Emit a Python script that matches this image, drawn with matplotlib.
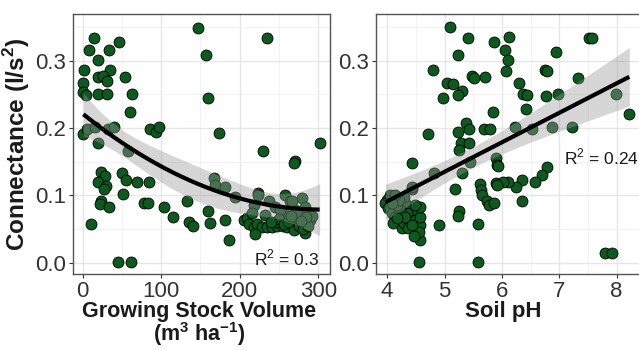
import numpy as np
import matplotlib
matplotlib.use("Agg")
import matplotlib.pyplot as plt
from matplotlib.ticker import MultipleLocator

plt.rcParams['font.family'] = ['Liberation Sans', 'DejaVu Sans']
plt.rcParams['mathtext.fontset'] = 'custom'
plt.rcParams['mathtext.rm'] = 'Liberation Sans'
plt.rcParams['mathtext.bf'] = 'Liberation Sans:bold'

# growing stock volume (m3/ha) vs connectance
gsv = [14.4, 8.4, 34, 46.7, 20, 1.7, 34.8, 20, 26, 30.6, 0.8, 54, 0.8, 4.2, 20, 31.4, 63,
       60.3, 0.8, 5.9, 15.7, 32.7, 40, 20, 58.2, 85.8, 93.5, 97.7, 23, 28.4, 20, 29.7, 27.2,
       49.7, 55.2, 69.6, 84.2, 51.8, 23, 22, 34, 78.2, 83.3, 103.7, 115.6, 132.6, 136, 140.3,
       10.2, 45.4, 61.2, 146.5, 234.7, 157.3, 160.2, 173.9, 229.6, 301.8, 270, 268.6, 166.6,
       168, 181.5, 194.3, 223.2, 217.6, 236.7, 258, 264.4, 279.3, 254.6, 270.8, 283.5, 290,
       245.3, 270.8, 160.2, 162.4, 181.5, 204.8, 209.2, 215.6, 211.2, 217.6, 222, 228.3,
       234.7, 241, 247.4, 254.6, 260.2, 268.6, 283.5, 219, 185.7, 232.5, 273, 251.7, 266.6, 223,
       245, 250, 256, 262, 275, 280, 287, 292, 285, 278, 265, 240]
conn_gsv = [0.334, 0.315, 0.315, 0.328, 0.301, 0.286, 0.286, 0.276, 0.277, 0.269, 0.267, 0.276,
            0.254, 0.249, 0.250, 0.250, 0.250, 0.223, 0.191, 0.199, 0.202, 0.199, 0.201, 0.177,
            0.166, 0.199, 0.194, 0.201, 0.134, 0.129, 0.119, 0.114, 0.110, 0.133, 0.123, 0.119,
            0.119, 0.102, 0.092, 0.087, 0.083, 0.089, 0.089, 0.082, 0.068, 0.091, 0.061, 0.055,
            0.057, 0.001, 0.001, 0.348, 0.334, 0.308, 0.244, 0.192, 0.166, 0.177, 0.151, 0.148,
            0.125, 0.115, 0.113, 0.097, 0.103, 0.086, 0.092, 0.100, 0.091, 0.096, 0.076, 0.078,
            0.083, 0.063, 0.083, 0.063, 0.077, 0.059, 0.064, 0.064, 0.067, 0.073, 0.058, 0.053,
            0.058, 0.053, 0.053, 0.053, 0.054, 0.054, 0.053, 0.049, 0.044, 0.043, 0.034, 0.071,
            0.074, 0.078, 0.091, 0.100,
            0.060, 0.065, 0.058, 0.060, 0.055, 0.050, 0.055, 0.070, 0.068, 0.062, 0.070, 0.060]

# soil pH vs connectance
ph = [5.10, 5.41, 5.86, 6.05, 5.23, 4.79, 5.04, 5.14, 5.30, 5.23, 4.98, 5.48, 5.51, 5.70, 6.07,
      5.84, 5.37, 5.43, 5.23, 5.68, 5.80, 5.29, 5.42, 5.26, 4.71, 4.43, 4.81, 5.30, 5.45, 5.90,
      5.91, 5.62, 5.64, 5.65, 5.74, 5.77, 5.86, 5.90, 5.19, 5.26, 5.23, 5.59, 4.90, 4.55, 5.59,
      4.58, 4.44,
      4.05, 4.00, 3.97, 4.02, 4.08, 4.14, 4.20, 4.11, 4.26, 4.29, 4.37, 4.43, 4.34, 4.49, 4.58,
      4.55, 4.37, 4.58, 4.46, 4.43, 4.31, 4.23, 4.17, 4.29, 4.20, 4.14, 4.58, 4.49, 4.08, 4.31,
      4.43, 4.17,
      6.12, 6.10, 6.94, 7.51, 7.57, 6.75, 6.78, 7.32, 6.30, 6.37, 6.43, 6.76, 6.98, 6.42, 7.99,
      8.22, 6.22, 6.52, 6.88, 7.23, 5.94, 6.78, 6.69, 6.57, 6.35, 6.24, 6.11, 6.02, 5.91, 6.35,
      7.80, 7.92]
conn_ph = [0.349, 0.334, 0.328, 0.315, 0.308, 0.286, 0.267, 0.265, 0.255, 0.249, 0.244, 0.277,
           0.274, 0.276, 0.285, 0.223, 0.208, 0.199, 0.194, 0.199, 0.199, 0.178, 0.177, 0.167,
           0.191, 0.148, 0.133, 0.133, 0.150, 0.155, 0.145, 0.117, 0.108, 0.100, 0.091, 0.086,
           0.088, 0.118, 0.109, 0.076, 0.069, 0.057, 0.056, 0.001, 0.001, 0.034, 0.110,
           0.100, 0.093, 0.088, 0.081, 0.074, 0.068, 0.061, 0.059, 0.051, 0.059, 0.063, 0.073,
           0.073, 0.063, 0.056, 0.046, 0.051, 0.068, 0.039, 0.113, 0.088, 0.078, 0.086, 0.098,
           0.093, 0.100, 0.083, 0.086, 0.088, 0.068, 0.056, 0.066,
           0.335, 0.301, 0.313, 0.334, 0.334, 0.286, 0.285, 0.274, 0.267, 0.250, 0.249, 0.247,
           0.250, 0.228, 0.250, 0.221, 0.201, 0.199, 0.201, 0.201, 0.143, 0.142, 0.130, 0.120,
           0.123, 0.113, 0.120, 0.119, 0.115, 0.091, 0.015, 0.015]

r2_labels = ["0.3", "0.24"]

POINT = '#0d5a1e'
T975 = 1.98


def lm_fit(x, y, deg):
    # ordinary least squares polynomial + 95% confidence band
    x = np.asarray(x, float)
    y = np.asarray(y, float)
    X = np.vander(x, deg + 1)
    beta, *_ = np.linalg.lstsq(X, y, rcond=None)
    resid = y - X @ beta
    sigma2 = resid @ resid / (len(x) - deg - 1)
    cov = sigma2 * np.linalg.inv(X.T @ X)
    xs = np.linspace(x.min(), x.max(), 200)
    Xs = np.vander(xs, deg + 1)
    fit = Xs @ beta
    se = np.sqrt(np.einsum('ij,jk,ik->i', Xs, cov, Xs))
    return xs, fit, fit - T975 * se, fit + T975 * se


def style_axes(ax):
    ax.set_axisbelow(True)
    ax.grid(True, which='major', color='#e6e6e6', linewidth=1.0)
    ax.grid(True, which='minor', color='#f0f0f0', linewidth=0.6)
    for s in ax.spines.values():
        s.set_color('#555555')
        s.set_linewidth(1.0)
    ax.tick_params(which='major', direction='out', length=3, width=0.8, color='#333333',
                   labelsize=16, labelcolor='#333333', pad=2)
    ax.tick_params(which='minor', length=0)
    ax.set_ylim(-0.0168, 0.369)
    ax.yaxis.set_major_locator(MultipleLocator(0.1))
    ax.yaxis.set_minor_locator(MultipleLocator(0.05))
    ax.yaxis.set_major_formatter(plt.FuncFormatter(lambda v, p: f'{v:.1f}'))


def draw_panel(ax, x, y, deg):
    ax.scatter(x, y, s=62, color=POINT, edgecolor='black', linewidth=0.6, zorder=2)
    xs, fit, lo, hi = lm_fit(x, y, deg)
    ax.fill_between(xs, lo, hi, color='#999999', alpha=0.4, linewidth=0, zorder=3)
    ax.plot(xs, fit, color='black', linewidth=3.0, zorder=4, solid_capstyle='butt')


fig = plt.figure(figsize=(6.39, 3.5), dpi=100)
ax1 = fig.add_axes([72.7 / 639, 1 - 274 / 350, (330 - 72.7) / 639, 260 / 350])
ax2 = fig.add_axes([375.7 / 639, 1 - 274 / 350, (641 - 375.7) / 639, 260 / 350])

draw_panel(ax1, gsv, conn_gsv, 2)
style_axes(ax1)
ax1.set_xlim(-12.8, 315)
ax1.xaxis.set_major_locator(MultipleLocator(100))
ax1.xaxis.set_minor_locator(MultipleLocator(50))
ax1.set_xlabel("Growing Stock Volume\n" + r"(m$^{\mathbf{3}}$ ha$^{\mathbf{-1}}$)",
               fontsize=15.5, fontweight='bold', linespacing=0.9, color='#1a1a1a')
ax1.xaxis.set_label_coords(0.49, -0.104)
ax1.set_ylabel(r"Connectance (l/s$^{\mathbf{2}}$)", fontsize=17.5, fontweight='bold',
               color='#1a1a1a')
ax1.yaxis.set_label_coords(-0.16, 0.5)
ax1.text(218.5, 0.0074, r"R$^2$ = " + r2_labels[0], fontsize=12.5, ha='left', va='center',
         color='#1a1a1a', zorder=5)

draw_panel(ax2, ph, conn_ph, 1)
style_axes(ax2)
ax2.set_xlim(3.80, 8.424)
ax2.xaxis.set_major_locator(MultipleLocator(1))
ax2.xaxis.set_minor_locator(MultipleLocator(0.5))
ax2.set_xlabel("Soil pH", fontsize=16, fontweight='bold', color='#1a1a1a')
ax2.xaxis.set_label_coords(0.48, -0.105)
ax2.text(7.09, 0.157, r"R$^2$ = " + r2_labels[1], fontsize=12.5, ha='left', va='center',
         color='#1a1a1a', zorder=5)

fig.savefig("out.png", dpi=100)
